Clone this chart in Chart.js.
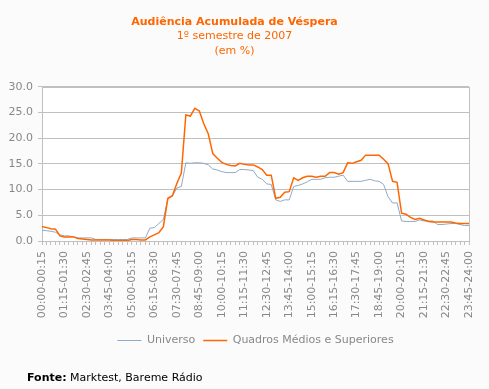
<!DOCTYPE html>
<html>
<head>
<meta charset="utf-8">
<script src="https://cdn.jsdelivr.net/npm/chart.js@4/dist/chart.umd.min.js"></script>
<style>
  html, body { margin: 0; padding: 0; background: #fbfbfb; }
  #wrap { position: relative; width: 489px; height: 389px; }
  #fonte { position: absolute; left: 27px; top: 371px; font: 11px "DejaVu Sans", sans-serif; color: #000; }
</style>
</head>
<body>
<div id="wrap">
  <canvas id="chart" width="489" height="389"></canvas>
  <div id="fonte"><b>Fonte:</b> Marktest, Bareme Rádio</div>
</div>
<script>
// 15-minute slots over the day
const slots = [
  '00:00-00:15','00:15-00:30','00:30-00:45','00:45-01:00','01:00-01:15','01:15-01:30','01:30-01:45','01:45-02:00',
  '02:00-02:15','02:15-02:30','02:30-02:45','02:45-03:00','03:00-03:15','03:15-03:30','03:30-03:45','03:45-04:00',
  '04:00-04:15','04:15-04:30','04:30-04:45','04:45-05:00','05:00-05:15','05:15-05:30','05:30-05:45','05:45-06:00',
  '06:00-06:15','06:15-06:30','06:30-06:45','06:45-07:00','07:00-07:15','07:15-07:30','07:30-07:45','07:45-08:00',
  '08:00-08:15','08:15-08:30','08:30-08:45','08:45-09:00','09:00-09:15','09:15-09:30','09:30-09:45','09:45-10:00',
  '10:00-10:15','10:15-10:30','10:30-10:45','10:45-11:00','11:00-11:15','11:15-11:30','11:30-11:45','11:45-12:00',
  '12:00-12:15','12:15-12:30','12:30-12:45','12:45-13:00','13:00-13:15','13:15-13:30','13:30-13:45','13:45-14:00',
  '14:00-14:15','14:15-14:30','14:30-14:45','14:45-15:00','15:00-15:15','15:15-15:30','15:30-15:45','15:45-16:00',
  '16:00-16:15','16:15-16:30','16:30-16:45','16:45-17:00','17:00-17:15','17:15-17:30','17:30-17:45','17:45-18:00',
  '18:00-18:15','18:15-18:30','18:30-18:45','18:45-19:00','19:00-19:15','19:15-19:30','19:30-19:45','19:45-20:00',
  '20:00-20:15','20:15-20:30','20:30-20:45','20:45-21:00','21:00-21:15','21:15-21:30','21:30-21:45','21:45-22:00',
  '22:00-22:15','22:15-22:30','22:30-22:45','22:45-23:00','23:00-23:15','23:15-23:30','23:30-23:45','23:45-24:00'
];

const universo = [
  2.1, 2.0, 1.9, 1.7, 1.2, 1.0, 1.0, 0.8, 0.6, 0.6,
  0.6, 0.6, 0.3, 0.3, 0.3, 0.3, 0.3, 0.3, 0.3, 0.3,
  0.6, 0.6, 0.6, 0.6, 2.5, 2.6, 3.4, 4.2, 8.2, 8.7,
  10.3, 10.6, 15.2, 15.1, 15.2, 15.2, 15.1, 14.8, 14.0, 13.8,
  13.5, 13.3, 13.3, 13.3, 13.9, 13.9, 13.8, 13.7, 12.4, 12.0,
  11.1, 11.0, 8.0, 7.7, 8.0, 8.0, 10.6, 10.8, 11.1, 11.5,
  12.0, 12.0, 12.0, 12.3, 12.4, 12.4, 12.6, 12.8, 11.6, 11.6,
  11.6, 11.6, 11.8, 12.0, 11.7, 11.6, 11.0, 8.6, 7.4, 7.4,
  3.9, 3.8, 3.8, 3.8, 4.1, 3.9, 3.9, 3.9, 3.2, 3.2,
  3.3, 3.4, 3.4, 3.2, 3.0, 3.0
];

const quadros = [
  2.8, 2.6, 2.4, 2.3, 1.0, 0.8, 0.8, 0.8, 0.5, 0.4,
  0.3, 0.2, 0.2, 0.2, 0.2, 0.2, 0.1, 0.1, 0.1, 0.1,
  0.3, 0.3, 0.2, 0.2, 0.8, 1.2, 1.6, 2.8, 8.3, 8.8,
  11.2, 13.2, 24.5, 24.3, 25.8, 25.3, 22.8, 20.8, 17.0, 16.1,
  15.3, 14.9, 14.7, 14.6, 15.1, 14.9, 14.8, 14.8, 14.4, 13.9,
  12.8, 12.8, 8.3, 8.5, 9.5, 9.6, 12.3, 11.8, 12.3, 12.6,
  12.6, 12.4, 12.6, 12.6, 13.3, 13.3, 13.0, 13.3, 15.2, 15.1,
  15.4, 15.7, 16.7, 16.7, 16.7, 16.7, 15.9, 15.0, 11.6, 11.4,
  5.4, 5.2, 4.6, 4.2, 4.4, 4.1, 3.8, 3.7, 3.7, 3.7,
  3.7, 3.7, 3.5, 3.4, 3.4, 3.4
];

const yTicks = [0, 5, 10, 15, 20, 25, 30];

const FONT = '"DejaVu Sans", Verdana, sans-serif';
const GRID = '#c0c0c0';
const TEXT = '#888888';

// white plot area with a grey frame, like the original
const plotFrame = {
  id: 'plotFrame',
  beforeDraw(chart) {
    const { ctx, chartArea: a } = chart;
    ctx.save();
    ctx.fillStyle = '#ffffff';
    ctx.fillRect(a.left, a.top, a.right - a.left, a.bottom - a.top);
    ctx.restore();
  },
  beforeDatasetsDraw(chart) {
    const { ctx, chartArea: a } = chart;
    ctx.save();
    ctx.strokeStyle = GRID;
    ctx.lineWidth = 1;
    ctx.strokeRect(Math.round(a.left) + 0.5, Math.round(a.top) + 0.5,
      Math.round(a.right - a.left), Math.round(a.bottom - a.top));
    ctx.restore();
  }
};

new Chart(document.getElementById('chart'), {
  type: 'line',
  data: {
    labels: slots,
    datasets: [
      { label: 'Universo', data: universo, borderColor: '#8eaac6', backgroundColor: '#8eaac6',
        borderWidth: 1, pointRadius: 0, tension: 0, order: 1 },
      { label: 'Quadros Médios e Superiores', data: quadros, borderColor: '#ff6600', backgroundColor: '#ff6600',
        borderWidth: 1.5, pointRadius: 0, tension: 0, order: 0 }
    ]
  },
  options: {
    responsive: false,
    animation: false,
    layout: { padding: { left: 0, right: 20, top: 0, bottom: 33 } },
    plugins: {
      title: {
        display: true, text: 'Audiência Acumulada de Véspera', color: '#ff6600',
        font: { family: FONT, size: 11, weight: 'bold' }, padding: { top: 16, bottom: 0 }
      },
      subtitle: {
        display: true, text: ['1º semestre de 2007', '(em %)'], color: '#ff6600',
        font: { family: FONT, size: 11, lineHeight: 1.32 }, padding: { top: 0, bottom: 28.5 }
      },
      legend: {
        position: 'bottom', fullSize: false,
        labels: {
          usePointStyle: true, pointStyle: 'line', pointStyleWidth: 24,
          color: TEXT, font: { family: FONT, size: 11 }, padding: 8,
          sort: (a, b) => a.datasetIndex - b.datasetIndex
        }
      },
      tooltip: { enabled: false }
    },
    scales: {
      x: {
        offset: false,
        grid: { drawOnChartArea: false, color: GRID, tickLength: 4 },
        border: { color: GRID },
        ticks: {
          autoSkip: false, maxRotation: 90, minRotation: 90, padding: 6,
          color: TEXT, font: { family: FONT, size: 11 },
          callback: (v, i) => (i % 5 === 0 ? slots[i] : '')
        },
        afterFit: s => { s.height = 86; }
      },
      y: {
        min: yTicks[0], max: yTicks[yTicks.length - 1],
        grid: { color: GRID, tickLength: 4 },
        border: { color: GRID },
        ticks: {
          stepSize: yTicks[1] - yTicks[0], padding: 5,
          color: TEXT, font: { family: FONT, size: 11 },
          callback: v => v.toFixed(1)
        },
        afterFit: s => { s.width = 42; }
      }
    }
  },
  plugins: [plotFrame]
});
</script>
</body>
</html>
